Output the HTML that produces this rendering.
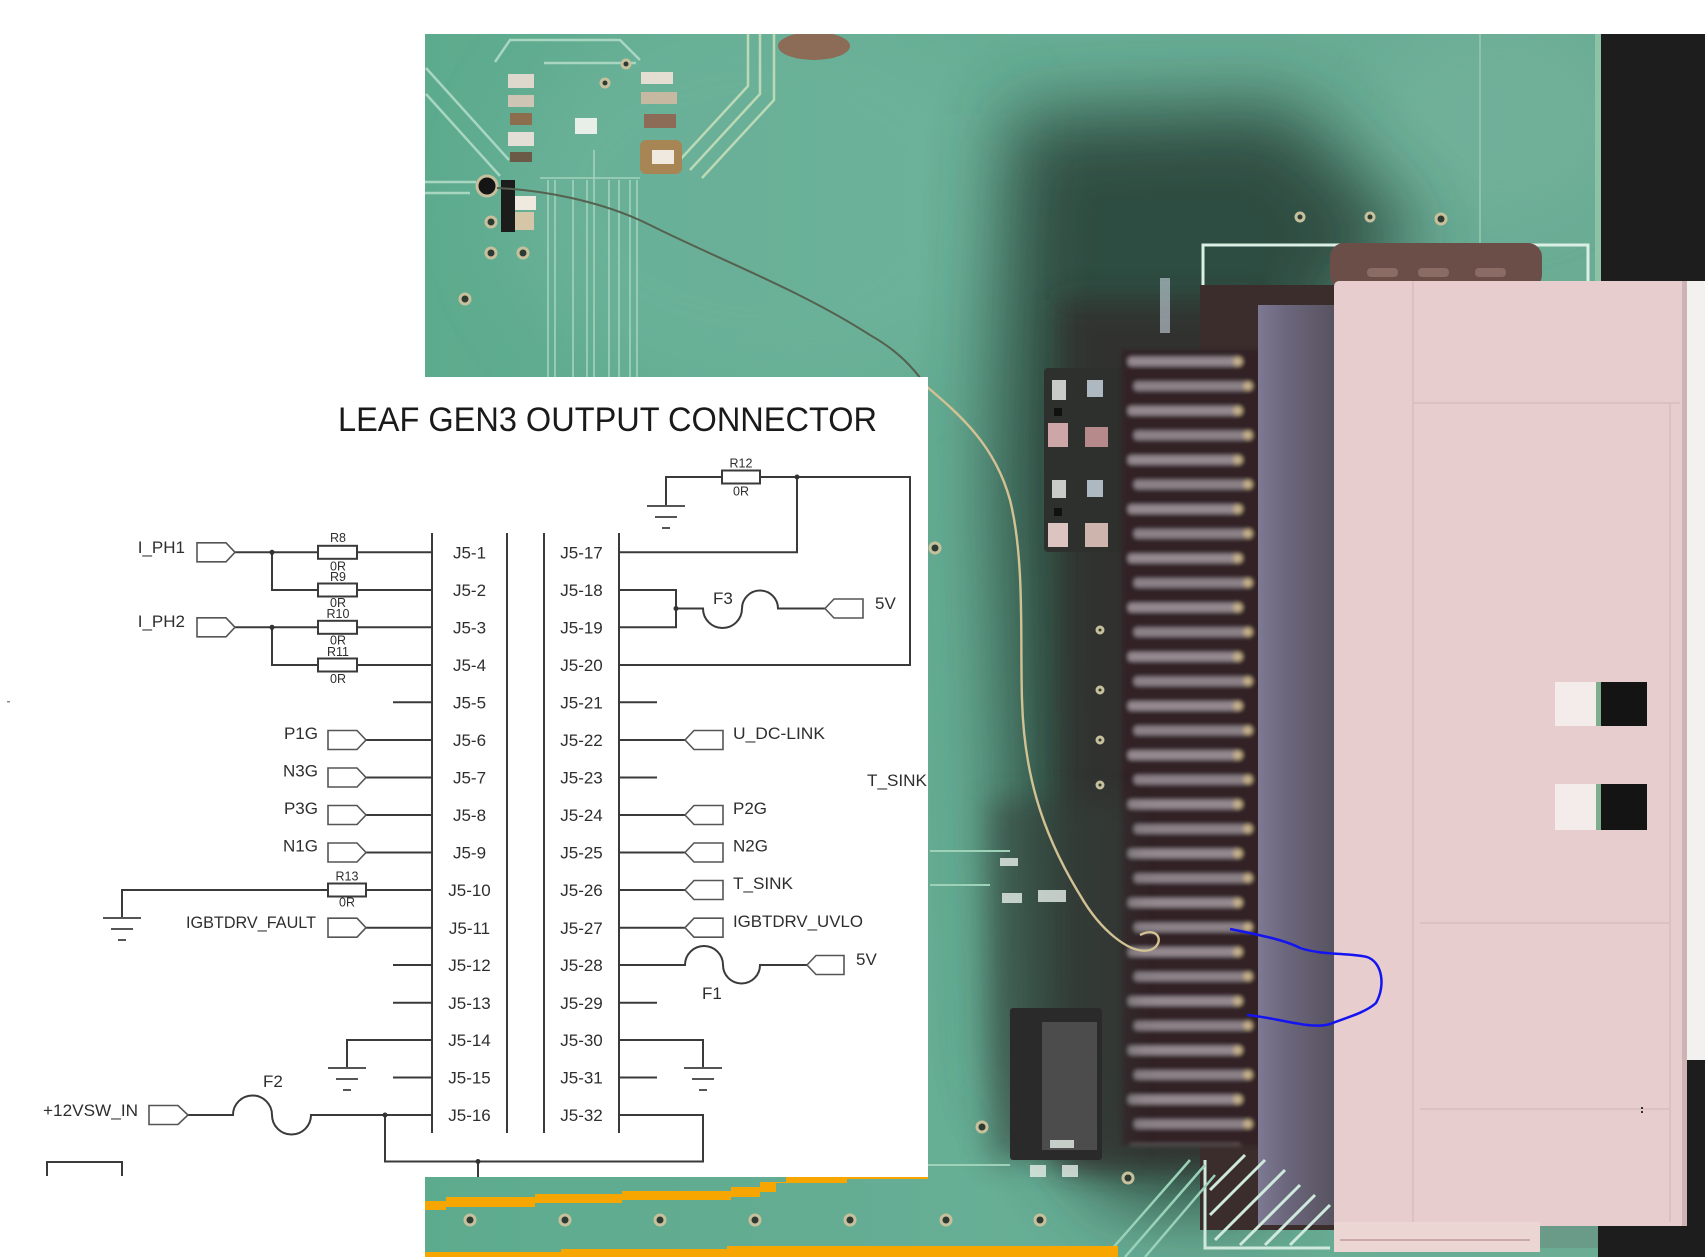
<!DOCTYPE html>
<html><head><meta charset="utf-8">
<style>
html,body{margin:0;padding:0;background:#fff;}
svg{display:block;}
text{font-family:"Liberation Sans",sans-serif;fill:#2e2e2e;}
</style></head><body>
<svg width="1705" height="1257" viewBox="0 0 1705 1257" xmlns="http://www.w3.org/2000/svg">
<defs>
 <clipPath id="ph"><rect x="425" y="34" width="1280" height="1223"/></clipPath>
 <filter id="b40" x="-50%" y="-50%" width="200%" height="200%"><feGaussianBlur stdDeviation="38"/></filter>
 <filter id="b25" x="-50%" y="-50%" width="200%" height="200%"><feGaussianBlur stdDeviation="25"/></filter>
 <filter id="b15" x="-50%" y="-50%" width="200%" height="200%"><feGaussianBlur stdDeviation="14"/></filter>
 <filter id="b2" x="-10%" y="-10%" width="120%" height="120%"><feGaussianBlur stdDeviation="2"/></filter>
 <linearGradient id="strip" x1="0" x2="1" y1="0" y2="0">
  <stop offset="0" stop-color="#7e7993"/><stop offset="0.35" stop-color="#6c677d"/><stop offset="1" stop-color="#57525f"/>
 </linearGradient>
 <linearGradient id="base" x1="0" x2="1" y1="0" y2="0">
  <stop offset="0" stop-color="#5dab8e"/><stop offset="0.5" stop-color="#68ae96"/><stop offset="1" stop-color="#6aab94"/>
 </linearGradient>
 <pattern id="pins" x="1122" y="352" width="140" height="49.2" patternUnits="userSpaceOnUse">
  <rect width="140" height="49.2" fill="#302426"/>
  <rect x="6" y="5" width="112" height="9" rx="3" fill="#958a90"/>
  <rect x="12" y="29.6" width="112" height="9" rx="3" fill="#8c8288"/>
  <circle cx="116" cy="9.5" r="4.5" fill="#c9b38c"/>
  <circle cx="126" cy="34" r="4.5" fill="#c9b38c"/>
 </pattern>
</defs>

<!-- ================= PHOTO ================= -->
<g clip-path="url(#ph)">
 <rect x="425" y="34" width="1280" height="1223" fill="url(#base)"/>
 <ellipse cx="760" cy="200" rx="260" ry="200" fill="#72b59f" opacity="0.5" filter="url(#b40)"/>
 <ellipse cx="1500" cy="120" rx="120" ry="100" fill="#74b29c" opacity="0.6" filter="url(#b25)"/>

 <!-- shadow -->
 <polygon points="1010,115 1290,105 1420,240 1340,300 1275,1205 1120,1205 1015,1080 995,480" fill="#2c443b" opacity="0.92" filter="url(#b40)"/>
 <rect x="1060" y="300" width="200" height="870" fill="#332b2a" opacity="0.75" filter="url(#b15)"/>

 <!-- black top-right & right edge -->
 <rect x="1601" y="34" width="104" height="248" fill="#1d1d1d"/>
 <rect x="1595" y="34" width="6" height="248" fill="#8cc3a6"/>
 <rect x="1687" y="281" width="18" height="780" fill="#f3f0f0"/>
 <rect x="1687" y="1060" width="18" height="197" fill="#1d1d1d"/>
 <rect x="1598" y="1224" width="107" height="33" fill="#1d1d1d"/>

 <!-- silkscreen -->
 <path d="M1203,344 V245 H1588 V283" fill="none" stroke="#dcefe4" stroke-width="3"/>
 <line x1="1480" y1="34" x2="1480" y2="245" stroke="#8fc2ab" stroke-width="2"/>
 <rect x="1160" y="278" width="10" height="55" fill="#c9d6e0" opacity="0.6"/>

 <!-- dark backdrop behind pins -->
 <rect x="1200" y="285" width="140" height="945" fill="#3a2d2c"/>
 <!-- brown lip -->
 <rect x="1330" y="243" width="212" height="46" rx="14" fill="#6c4e49"/>
 <rect x="1367" y="268" width="31" height="9" rx="4" fill="#8b6c64"/>
 <rect x="1418" y="268" width="31" height="9" rx="4" fill="#8b6c64"/>
 <rect x="1475" y="268" width="31" height="9" rx="4" fill="#8b6c64"/>

 <!-- pad block -->
 <rect x="1044" y="368" width="80" height="184" rx="4" fill="#2e302d"/>
 <rect x="1048" y="423" width="20" height="24" fill="#cda7a7"/>
 <rect x="1085" y="427" width="23" height="20" fill="#b68a8a"/>
 <rect x="1048" y="523" width="20" height="24" fill="#dcc5c0"/>
 <rect x="1085" y="523" width="23" height="24" fill="#cdb5ae"/>
 <rect x="1052" y="380" width="14" height="20" fill="#c8ccc8"/>
 <rect x="1087" y="380" width="16" height="17" fill="#aeb8c0"/>
 <rect x="1052" y="480" width="14" height="18" fill="#c8ccc8"/>
 <rect x="1087" y="480" width="16" height="17" fill="#aeb8c0"/>
 <rect x="1054" y="408" width="8" height="8" fill="#111"/>
 <rect x="1054" y="508" width="8" height="8" fill="#111"/>

 <!-- pins -->
 <rect x="1122" y="350" width="140" height="795" fill="url(#pins)" filter="url(#b2)"/>
 <!-- dark strip -->
 <rect x="1258" y="305" width="78" height="920" fill="url(#strip)"/>

 <!-- pink housing -->
 <rect x="1334" y="281" width="353" height="945" rx="5" fill="#e7cdcd"/>
 <rect x="1334" y="1222" width="206" height="30" fill="#ecd6d4"/>
 <line x1="1340" y1="1240" x2="1530" y2="1240" stroke="#c9aaa8" stroke-width="2"/>
 <rect x="1540" y="1226" width="58" height="22" fill="#6a9a88"/>
 <g stroke="#d9bdbd" stroke-width="1.5" fill="none">
  <line x1="1413" y1="281" x2="1413" y2="1222"/>
  <line x1="1413" y1="403" x2="1680" y2="403"/>
  <line x1="1420" y1="923" x2="1670" y2="923"/>
  <line x1="1420" y1="1109" x2="1670" y2="1109"/>
  <line x1="1670" y1="403" x2="1670" y2="1222"/>
 </g>
 <rect x="1682" y="281" width="5" height="945" fill="#cdb3b3"/>
 <!-- latches -->
 <rect x="1555" y="682" width="45" height="44" fill="#f4ecea"/>
 <rect x="1600" y="682" width="47" height="44" fill="#141414"/>
 <rect x="1596" y="682" width="5" height="44" fill="#7fae8e"/>
 <rect x="1555" y="784" width="45" height="46" fill="#f4ecea"/>
 <rect x="1600" y="784" width="47" height="46" fill="#141414"/>
 <rect x="1596" y="784" width="5" height="46" fill="#7fae8e"/>
 <rect x="1641" y="1107" width="2" height="2" fill="#333"/>
 <rect x="1641" y="1111" width="2" height="2" fill="#333"/>

 <!-- lower left components area -->
 <rect x="990" y="800" width="135" height="360" fill="#34403a" opacity="0.55" filter="url(#b15)"/>
 <rect x="1010" y="1008" width="92" height="152" rx="3" fill="#2a2a2a"/>
 <rect x="1042" y="1022" width="55" height="128" fill="#4c4c4c"/>
 <g fill="#e6eee8" opacity="0.8">
  <rect x="1002" y="893" width="20" height="10"/>
  <rect x="1038" y="890" width="28" height="12"/>
  <rect x="1000" y="858" width="18" height="8"/>
  <rect x="1030" y="1165" width="16" height="12"/>
  <rect x="1062" y="1165" width="16" height="12"/>
  <rect x="1050" y="1140" width="24" height="8"/>
 </g>
 <g stroke="#9fd0b8" stroke-width="2" fill="none">
  <line x1="930" y1="851" x2="1010" y2="851"/>
  <line x1="930" y1="885" x2="990" y2="885"/>
  <line x1="928" y1="1165" x2="1010" y2="1165"/>
 </g>

 <!-- hatching lower -->
 <g stroke="#cfe9dd" stroke-width="3">
  <path d="M1205,1160 V1248 H1330" fill="none"/>
  <line x1="1210" y1="1190" x2="1245" y2="1155"/>
  <line x1="1210" y1="1215" x2="1265" y2="1160"/>
  <line x1="1215" y1="1240" x2="1285" y2="1170"/>
  <line x1="1240" y1="1245" x2="1300" y2="1185"/>
  <line x1="1265" y1="1245" x2="1315" y2="1195"/>
  <line x1="1290" y1="1245" x2="1330" y2="1205"/>
 </g>
 <g stroke="#9ad2b9" stroke-width="2.5">
  <line x1="1125" y1="1257" x2="1205" y2="1165"/>
  <line x1="1145" y1="1257" x2="1215" y2="1175"/>
  <line x1="1105" y1="1257" x2="1190" y2="1160"/>
 </g>

 <!-- top-left traces -->
 <g stroke="#a8d6c1" stroke-width="2.5" fill="none">
  <line x1="426" y1="68" x2="509" y2="160"/>
  <line x1="426" y1="94" x2="500" y2="176"/>
  <line x1="425" y1="182" x2="476" y2="182"/>
  <line x1="425" y1="193" x2="470" y2="193"/>
  <path d="M495,62 L510,40 H620 L640,60"/>
  <line x1="544" y1="63" x2="636" y2="63"/>
 </g>
 <g stroke="#a3d3bc" stroke-width="1.6">
  <line x1="548" y1="180" x2="548" y2="377"/>
  <line x1="555" y1="180" x2="555" y2="377"/>
  <line x1="573" y1="180" x2="573" y2="377"/>
  <line x1="587" y1="180" x2="587" y2="377"/>
  <line x1="594" y1="150" x2="594" y2="377"/>
  <line x1="609" y1="180" x2="609" y2="377"/>
  <line x1="619" y1="180" x2="619" y2="377"/>
  <line x1="630" y1="180" x2="630" y2="377"/>
  <line x1="637" y1="180" x2="637" y2="377"/>
  <line x1="540" y1="178" x2="640" y2="178"/>
 </g>
 <g stroke="#bcd9b6" stroke-width="2.5" fill="none">
  <path d="M678,162 L748,86 V34"/>
  <path d="M690,170 L760,94 V34"/>
  <path d="M702,178 L774,100 V34"/>
 </g>
 <!-- components -->
 <g>
  <rect x="508" y="74" width="26" height="14" fill="#ddd7cc"/>
  <rect x="508" y="95" width="26" height="12" fill="#cfc5b5"/>
  <rect x="510" y="113" width="22" height="12" fill="#8c6d4e"/>
  <rect x="508" y="132" width="26" height="14" fill="#e3dfd6"/>
  <rect x="510" y="152" width="22" height="10" fill="#6b5b46"/>
  <rect x="514" y="196" width="22" height="14" fill="#efe9df"/>
  <rect x="514" y="212" width="20" height="18" fill="#d5c6a8"/>
  <rect x="501" y="180" width="14" height="52" fill="#1c1c1c"/>
  <rect x="641" y="72" width="32" height="12" fill="#e4ddd2"/>
  <rect x="641" y="92" width="36" height="12" fill="#c7b8a2"/>
  <rect x="644" y="114" width="32" height="14" fill="#8c6c56"/>
  <rect x="640" y="140" width="42" height="34" rx="6" fill="#a78555"/>
  <rect x="652" y="150" width="22" height="14" fill="#efe9df"/>
  <rect x="575" y="118" width="22" height="16" fill="#e8efe9"/>
  <ellipse cx="814" cy="46" rx="36" ry="14" fill="#8c6b57"/>
 </g>
 <!-- vias -->
 <g fill="#2d3b33" stroke="#c7c09c" stroke-width="3">
  <circle cx="487" cy="186" r="10" fill="#151515"/>
  <circle cx="491" cy="222" r="5"/><circle cx="491" cy="253" r="5"/><circle cx="523" cy="253" r="5"/>
  <circle cx="465" cy="299" r="5"/><circle cx="605" cy="83" r="4"/><circle cx="626" cy="64" r="4"/>
  <circle cx="935" cy="548" r="5"/>
  <circle cx="1300" cy="217" r="4"/><circle cx="1370" cy="217" r="4"/><circle cx="1441" cy="219" r="5"/>
  <circle cx="470" cy="1220" r="5"/><circle cx="565" cy="1220" r="5"/><circle cx="660" cy="1220" r="5"/>
  <circle cx="755" cy="1220" r="5"/><circle cx="850" cy="1220" r="5"/><circle cx="946" cy="1220" r="5"/>
  <circle cx="1040" cy="1220" r="5"/><circle cx="982" cy="1127" r="5"/><circle cx="1128" cy="1178" r="5"/>
  <circle cx="1100" cy="630" r="3"/><circle cx="1100" cy="690" r="3"/><circle cx="1100" cy="740" r="3"/><circle cx="1100" cy="785" r="3"/>
 </g>

 <!-- wire -->
 <path d="M497,188 C540,190 600,200 650,225 C720,260 800,290 870,335 C900,352 915,370 926,386" fill="none" stroke="#55614f" stroke-width="2"/>
 <path d="M926,386 C960,415 995,445 1010,500 C1025,560 1020,640 1022,700 C1024,770 1040,830 1080,895 C1100,930 1130,955 1150,950 C1165,945 1160,925 1140,935" fill="none" stroke="#d2c193" stroke-width="2.4"/>

 <!-- orange traces -->
 <polygon fill="#f7a600" points="425,1201 446,1201 446,1197 535,1197 535,1194 622,1194 622,1191 731,1191 731,1187 760,1187 760,1182 786,1182 786,1177 928,1177 928,1179 847,1179 847,1183 776,1183 776,1192 760,1192 760,1197 731,1197 731,1200 622,1200 622,1203 535,1203 535,1207 446,1207 446,1210 425,1210"/>
 <polygon fill="#f7a600" points="425,1252 561,1252 561,1249 727,1249 727,1246 1118,1246 1118,1257 425,1257"/>

 <!-- blue loop -->
 <path d="M1230,929 C1260,935 1285,940 1300,948 C1320,955 1350,953 1367,957 C1382,962 1386,985 1376,1003 C1365,1013 1345,1018 1330,1024 C1310,1030 1280,1018 1247,1015" fill="none" stroke="#1414f0" stroke-width="2.5"/>
</g>

<!-- ================= WHITE PANEL ================= -->
<rect x="425" y="377" width="503" height="800" fill="#ffffff"/>

<!-- ================= SCHEMATIC ================= -->
<text x="338" y="431" font-size="34" textLength="539" lengthAdjust="spacingAndGlyphs" style="fill:#1a1a1a">LEAF GEN3 OUTPUT CONNECTOR</text>

<g stroke="#3a3a3a" stroke-width="2" fill="none">
 <line x1="432" y1="533" x2="432" y2="1133"/>
 <line x1="507" y1="533" x2="507" y2="1133"/>
 <line x1="544" y1="533" x2="544" y2="1133"/>
 <line x1="619" y1="533" x2="619" y2="1133"/>
 <path d="M235,552.3 H318 M357,552.3 H432"/>
 <path d="M272,552.3 V590 H318 M357,590 H432"/>
 <path d="M235,627.3 H318 M357,627.3 H432"/>
 <path d="M272,627.3 V665 H318 M357,665 H432"/>
 <path d="M393,702.3 H432"/>
 <path d="M366,740 H432 M366,777.5 H432 M366,815 H432 M366,852.5 H432 M366,927.7 H432"/>
 <path d="M366,890 H432 M328,890 H122 V918"/>
 <path d="M393,965 H432 M393,1002.7 H432 M393,1077.5 H432"/>
 <path d="M432,1040 H347 V1068"/>
 <path d="M188,1115 H233 A19.5,19.5 0 0 1 272,1115 A19.5,19.5 0 0 0 311,1115 H432"/>
 <path d="M385,1115 V1161.5 H703 V1115 H619"/>
 <path d="M478,1161.5 V1177"/>
 <path d="M47,1176 V1162 H122 V1176"/>
 <path d="M619,552.3 H797 V477"/>
 <path d="M666,506 V477 H722 M760,477 H910 V665 H619"/>
 <path d="M619,590 H676 V627.3 H619"/>
 <path d="M676,608.5 H703 A19.5,19.5 0 0 0 742,608.5 A18,18 0 0 1 778,608.5 H825"/>
 <path d="M619,702.3 H657 M619,777.5 H657 M619,1002.7 H657 M619,1077.5 H657"/>
 <path d="M619,740 H685 M619,815 H685 M619,852.5 H685 M619,890 H685 M619,927.7 H685"/>
 <path d="M619,965 H685 A19,19 0 0 1 723,965 A18.5,18.5 0 0 0 760,965 H807"/>
 <path d="M619,1040 H703 V1068"/>
</g>

<g stroke="#3a3a3a" stroke-width="2" fill="#fff">
 <rect x="318" y="545.8" width="39" height="13"/>
 <rect x="318" y="583.5" width="39" height="13"/>
 <rect x="318" y="620.8" width="39" height="13"/>
 <rect x="318" y="658.5" width="39" height="13"/>
 <rect x="328" y="883.5" width="38" height="13"/>
 <rect x="722" y="470.5" width="38" height="13"/>
</g>

<g stroke="#555" stroke-width="2">
 <line x1="103" y1="918" x2="141" y2="918"/><line x1="111" y1="929" x2="133" y2="929"/><line x1="118" y1="940" x2="126" y2="940"/>
 <line x1="328" y1="1068" x2="366" y2="1068"/><line x1="336" y1="1079" x2="358" y2="1079"/><line x1="343" y1="1090" x2="351" y2="1090"/>
 <line x1="647" y1="506" x2="685" y2="506"/><line x1="655" y1="517" x2="677" y2="517"/><line x1="662" y1="528" x2="670" y2="528"/>
 <line x1="684" y1="1068" x2="722" y2="1068"/><line x1="692" y1="1079" x2="714" y2="1079"/><line x1="699" y1="1090" x2="707" y2="1090"/>
</g>

<g stroke="#555" stroke-width="1.6" fill="#fff">
 <polygon points="197,542.8 226,542.8 235,552.3 226,561.8 197,561.8"/>
 <polygon points="197,617.8 226,617.8 235,627.3 226,636.8 197,636.8"/>
 <polygon points="328,730.5 357,730.5 366,740 357,749.5 328,749.5"/>
 <polygon points="328,768 357,768 366,777.5 357,787 328,787"/>
 <polygon points="328,805.5 357,805.5 366,815 357,824.5 328,824.5"/>
 <polygon points="328,843 357,843 366,852.5 357,862 328,862"/>
 <polygon points="328,918.2 357,918.2 366,927.7 357,937.2 328,937.2"/>
 <polygon points="149,1105.5 178,1105.5 188,1115 178,1124.5 149,1124.5"/>
 <polygon points="685,740 694,730.5 723,730.5 723,749.5 694,749.5"/>
 <polygon points="685,815 694,805.5 723,805.5 723,824.5 694,824.5"/>
 <polygon points="685,852.5 694,843 723,843 723,862 694,862"/>
 <polygon points="685,890 694,880.5 723,880.5 723,899.5 694,899.5"/>
 <polygon points="685,927.7 694,918.2 723,918.2 723,937.2 694,937.2"/>
 <polygon points="825,608.5 834,599 863,599 863,618 834,618"/>
 <polygon points="807,965 816,955.5 844,955.5 844,974.5 816,974.5"/>
</g>

<g fill="#333">
 <circle cx="272" cy="552.3" r="2.5"/><circle cx="272" cy="627.3" r="2.5"/>
 <circle cx="797" cy="477" r="2.5"/><circle cx="676" cy="608.5" r="2.5"/>
 <circle cx="385" cy="1115" r="2.5"/><circle cx="478" cy="1161.5" r="2.5"/>
</g>

<g font-size="17" text-anchor="middle">
 <text x="469.5" y="558.4">J5-1</text>
 <text x="469.5" y="596.1">J5-2</text>
 <text x="469.5" y="633.4">J5-3</text>
 <text x="469.5" y="671.1">J5-4</text>
 <text x="469.5" y="708.4">J5-5</text>
 <text x="469.5" y="746.1">J5-6</text>
 <text x="469.5" y="783.6">J5-7</text>
 <text x="469.5" y="821.1">J5-8</text>
 <text x="469.5" y="858.6">J5-9</text>
 <text x="469.5" y="896.1">J5-10</text>
 <text x="469.5" y="933.8">J5-11</text>
 <text x="469.5" y="971.1">J5-12</text>
 <text x="469.5" y="1008.8">J5-13</text>
 <text x="469.5" y="1046.1">J5-14</text>
 <text x="469.5" y="1083.6">J5-15</text>
 <text x="469.5" y="1121.1">J5-16</text>
 <text x="581.5" y="558.4">J5-17</text>
 <text x="581.5" y="596.1">J5-18</text>
 <text x="581.5" y="633.4">J5-19</text>
 <text x="581.5" y="671.1">J5-20</text>
 <text x="581.5" y="708.4">J5-21</text>
 <text x="581.5" y="746.1">J5-22</text>
 <text x="581.5" y="783.6">J5-23</text>
 <text x="581.5" y="821.1">J5-24</text>
 <text x="581.5" y="858.6">J5-25</text>
 <text x="581.5" y="896.1">J5-26</text>
 <text x="581.5" y="933.8">J5-27</text>
 <text x="581.5" y="971.1">J5-28</text>
 <text x="581.5" y="1008.8">J5-29</text>
 <text x="581.5" y="1046.1">J5-30</text>
 <text x="581.5" y="1083.6">J5-31</text>
 <text x="581.5" y="1121.1">J5-32</text>
</g>

<g font-size="17">
 <text x="185" y="553" text-anchor="end">I_PH1</text>
 <text x="185" y="627" text-anchor="end">I_PH2</text>
 <text x="318" y="739" text-anchor="end">P1G</text>
 <text x="318" y="776.5" text-anchor="end">N3G</text>
 <text x="318" y="814" text-anchor="end">P3G</text>
 <text x="318" y="851.5" text-anchor="end">N1G</text>
 <text x="186" y="928" textLength="130" lengthAdjust="spacingAndGlyphs">IGBTDRV_FAULT</text>
 <text x="43" y="1116" textLength="95" lengthAdjust="spacingAndGlyphs">+12VSW_IN</text>
 <text x="263" y="1087">F2</text>
 <text x="733" y="739" textLength="92" lengthAdjust="spacingAndGlyphs">U_DC-LINK</text>
 <text x="733" y="814">P2G</text>
 <text x="733" y="851.5">N2G</text>
 <text x="733" y="889" textLength="60" lengthAdjust="spacingAndGlyphs">T_SINK</text>
 <text x="733" y="927" textLength="130" lengthAdjust="spacingAndGlyphs">IGBTDRV_UVLO</text>
 <text x="875" y="609">5V</text>
 <text x="856" y="965">5V</text>
 <text x="713" y="604">F3</text>
 <text x="702" y="999">F1</text>
 <text x="867" y="786" textLength="60" lengthAdjust="spacingAndGlyphs">T_SINK</text>
</g>

<g font-size="12.5" text-anchor="middle">
 <text x="338" y="542">R8</text><text x="338" y="570.5">0R</text>
 <text x="338" y="581">R9</text><text x="338" y="607">0R</text>
 <text x="338" y="618">R10</text><text x="338" y="644.5">0R</text>
 <text x="338" y="656">R11</text><text x="338" y="683">0R</text>
 <text x="347" y="880.5">R13</text><text x="347" y="906.5">0R</text>
 <text x="741" y="467.5">R12</text><text x="741" y="495.5">0R</text>
</g>

<rect x="7" y="701" width="3" height="1.5" fill="#888"/>
</svg>
</body></html>
